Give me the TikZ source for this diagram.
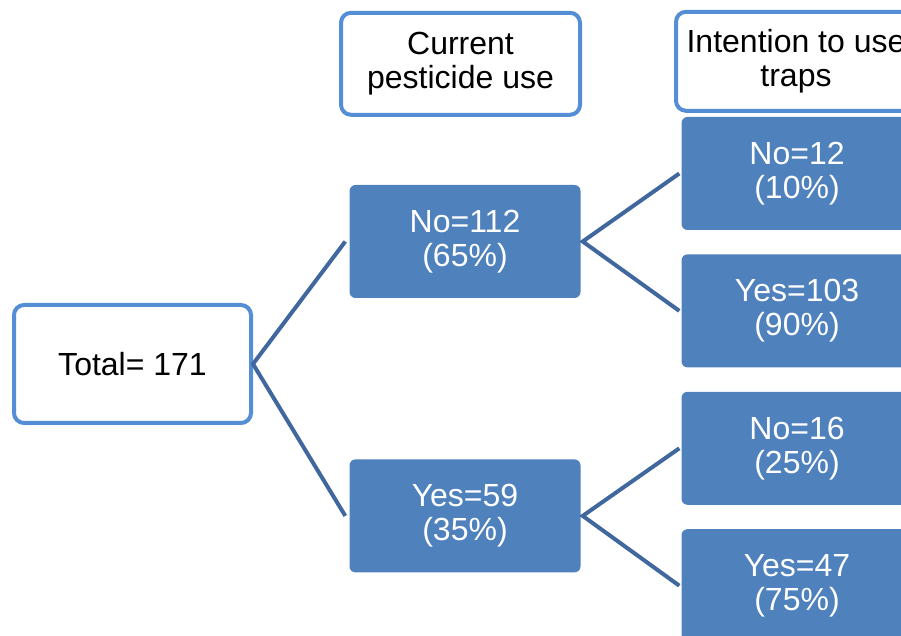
\documentclass[tikz,border=0pt]{standalone}
\usepackage{fontspec}
\setmainfont{Liberation Sans}
\usepackage{tikz}
\usetikzlibrary{positioning}
\definecolor{boxblue}{HTML}{4F81BD}
\definecolor{rimblue}{HTML}{558ED5}
\definecolor{linkblue}{HTML}{41689E}

\begin{document}
\begin{tikzpicture}[
    x=1pt, y=1pt,
    outbox/.style={rectangle, draw=rimblue, line width=4pt, fill=white, rounded corners=10pt, align=center, text=black, font=\fontsize{32}{34}\selectfont},
    fillbox/.style={rectangle, fill=boxblue, rounded corners=6pt, align=center, text=white, minimum width=231pt, minimum height=113pt, font=\fontsize{32}{34}\selectfont},
    link/.style={draw=linkblue, line width=4pt}
]
\useasboundingbox (0,0) rectangle (901,636);
\clip (0,0) rectangle (901,636);
\node[outbox, minimum width=237pt, minimum height=118pt] (total) at (132.5,272) {Total= 171};
\node[fillbox] (no112) at (465,394.5) {No=112\\(65\%)};
\node[fillbox, below=161pt of no112] (yes59) {Yes=59\\(35\%)};
\node[outbox, minimum width=239pt, minimum height=102pt, above=68pt of no112, xshift=-4.5pt] (cur) {Current\\pesticide use};
\node[fillbox] (no12) at (797,462.5) {No=12\\(10\%)};
\node[fillbox, below=24pt of no12] (yes103) {Yes=103\\(90\%)};
\node[fillbox, below=24pt of yes103] (no16) {No=16\\(25\%)};
\node[fillbox, below=24pt of no16] (yes47) {Yes=47\\(75\%)};
\node[outbox, minimum width=240pt, minimum height=99pt, above=4pt of no12, xshift=-1pt] (int) {Intention to use\\traps};
\draw[link] ([xshift=-4pt]no112.west) -- (total.east) -- ([xshift=-4pt]yes59.west);
\draw[link] ([xshift=-2pt]no12.west) -- ([xshift=2pt]no112.east) -- ([xshift=-2pt]yes103.west);
\draw[link] ([xshift=-2pt]no16.west) -- ([xshift=2pt]yes59.east) -- ([xshift=-2pt]yes47.west);
\end{tikzpicture}
\end{document}
